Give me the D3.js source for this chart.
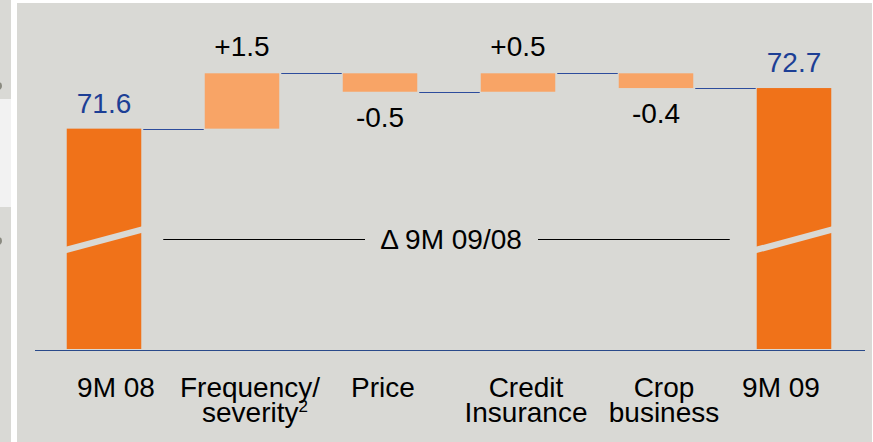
<!DOCTYPE html>
<html>
<head>
<meta charset="utf-8">
<script src="https://cdn.jsdelivr.net/npm/d3@7"></script>
<style>
  body { margin: 0; background: #fff; }
  svg { display: block; font-family: "Liberation Sans", Arial, sans-serif; }
</style>
</head>
<body>
<div id="chart"></div>
<script>
// chart data
var categories = ["9M 08", "Frequency/|severity", "Price", "Credit|Insurance", "Crop|business", "9M 09"];
var startValue = 71.6;
var changes = [1.5, -0.5, 0.5, -0.4];
var endValue = 72.7;
var changeLabels = ["+1.5", "-0.5", "+0.5", "-0.4"];
var deltaLabel = "\u0394 9M 09/08";

plot_waterfall("#chart", 873, 442);

function plot_waterfall(htmlObjectId, width, height) {

    // build the steps of the waterfall from the running total
    var steps = [];
    var run = startValue;
    steps.push({cat: categories[0], from: 0, to: startValue, total: true, label: startValue.toFixed(1)});
    changes.forEach(function(c, i) {
        steps.push({cat: categories[i + 1], from: run, to: run + c, total: false, label: changeLabels[i]});
        run = run + c;
    });
    steps.push({cat: categories[5], from: 0, to: endValue, total: true, label: endValue.toFixed(1)});

    var svg = d3.select(htmlObjectId).append("svg")
        .attr("width", width)
        .attr("height", height);

    // slide frame: strip on the left and the grey panel
    svg.append("rect").attr("x", 0).attr("y", 0).attr("width", 11).attr("height", height).attr("fill", "#d9d9d5");
    svg.append("rect").attr("x", 0).attr("y", 99).attr("width", 11).attr("height", 108).attr("fill", "#f2f2f2");
    [86, 241].forEach(function(y) {
        svg.append("circle").attr("cx", -2).attr("cy", y).attr("r", 4).attr("fill", "#8a8a80");
    });
    svg.append("rect").attr("x", 17).attr("y", 3).attr("width", 855).attr("height", height - 3).attr("fill", "#d9d9d5");

    // broken axis: the bottom is cut, scale only covers the top part
    var y = d3.scaleLinear().domain([65.6, 73.1]).range([350, 73.3]);
    var x = d3.scaleBand()
        .domain(categories)
        .range([35, 863])
        .paddingInner(0.46)
        .paddingOuter(0.23);
    var bw = x.bandwidth();

    var baseY = y.range()[0];

    svg.selectAll("rect.bar")
        .data(steps)
      .enter().append("rect")
        .attr("class", "bar")
        .attr("x", function(d) { return x(d.cat); })
        .attr("y", function(d) { return d.total ? y(d.to) : y(Math.max(d.from, d.to)); })
        .attr("width", bw)
        .attr("height", function(d) {
            if (d.total) return baseY - y(d.to) - 1;
            return Math.abs(y(d.from) - y(d.to));
        })
        .attr("fill", function(d) { return d.total ? "#f07219" : "#f8a466"; });

    // break marks on the two total bars
    var breakY = y(68.6);
    steps.filter(function(d) { return d.total; }).forEach(function(d) {
        var x0 = x(d.cat) - 1, x1 = x(d.cat) + bw + 1;
        svg.append("polygon")
            .attr("points", [
                [x0, breakY + 7.5], [x1, breakY - 13], [x1, breakY - 6.5], [x0, breakY + 14]
            ].map(function(p) { return p.join(","); }).join(" "))
            .attr("fill", "#d9d9d5");
    });

    // connectors between bars
    var links = steps.slice(0, -1).map(function(d, i) {
        return {x1: x(d.cat) + bw + 2, x2: x(steps[i + 1].cat) - 1, v: d.to};
    });
    svg.selectAll("line.link")
        .data(links)
      .enter().append("line")
        .attr("x1", function(d) { return d.x1; })
        .attr("x2", function(d) { return d.x2; })
        .attr("y1", function(d) { return Math.round(y(d.v)) + 0.5; })
        .attr("y2", function(d) { return Math.round(y(d.v)) + 0.5; })
        .attr("stroke", "#2d4c9c")
        .attr("stroke-width", 1.2);

    // baseline
    svg.append("line")
        .attr("x1", x.range()[0]).attr("x2", x.range()[1] + 2)
        .attr("y1", baseY + 0.5).attr("y2", baseY + 0.5)
        .attr("stroke", "#2a4a8a").attr("stroke-width", 1.2);

    // value labels
    svg.selectAll("text.val")
        .data(steps)
      .enter().append("text")
        .attr("class", "val")
        .attr("x", function(d) { return x(d.cat) + bw / 2; })
        .attr("y", function(d) {
            if (d.total) return y(d.to) - 16;
            if (d.to >= d.from) return y(d.to) - 17;
            return y(d.to) + 35;
        })
        .attr("text-anchor", "middle")
        .attr("font-size", 28)
        .attr("fill", function(d) { return d.total ? "#1d3f95" : "#000"; })
        .text(function(d) { return d.label; });

    // category labels (two lines, small nudges as on the slide)
    var labelShift = [[12], [8, 13], [3], [8, 8], [8, 8], [-13]];
    categories.forEach(function(c, i) {
        var lines = c.split("|");
        lines.forEach(function(t, j) {
            var txt = svg.append("text")
                .attr("x", x(c) + bw / 2 + labelShift[i][j])
                .attr("y", 397 + j * 25)
                .attr("text-anchor", "middle")
                .attr("font-size", 28)
                .attr("fill", "#000")
                .text(t);
            if (t === "severity") {
                txt.append("tspan").attr("font-size", 17).attr("dy", -10).text("2");
            }
        });
    });

    // delta annotation across the chart
    var dy = Math.round(y(68.6)) + 0.5;
    var midX = (x.range()[0] + x.range()[1]) / 2 + 2;
    svg.append("line")
        .attr("x1", x(categories[0]) + bw + 22).attr("x2", midX - 86)
        .attr("y1", dy).attr("y2", dy)
        .attr("stroke", "#000").attr("stroke-width", 1.2);
    svg.append("line")
        .attr("x1", midX + 87).attr("x2", x(categories[5]) - 27)
        .attr("y1", dy).attr("y2", dy)
        .attr("stroke", "#000").attr("stroke-width", 1.2);
    svg.append("text")
        .attr("x", midX)
        .attr("y", dy + 9)
        .attr("text-anchor", "middle")
        .attr("font-size", 28)
        .attr("fill", "#000")
        .text(deltaLabel);
}
</script>
</body>
</html>
